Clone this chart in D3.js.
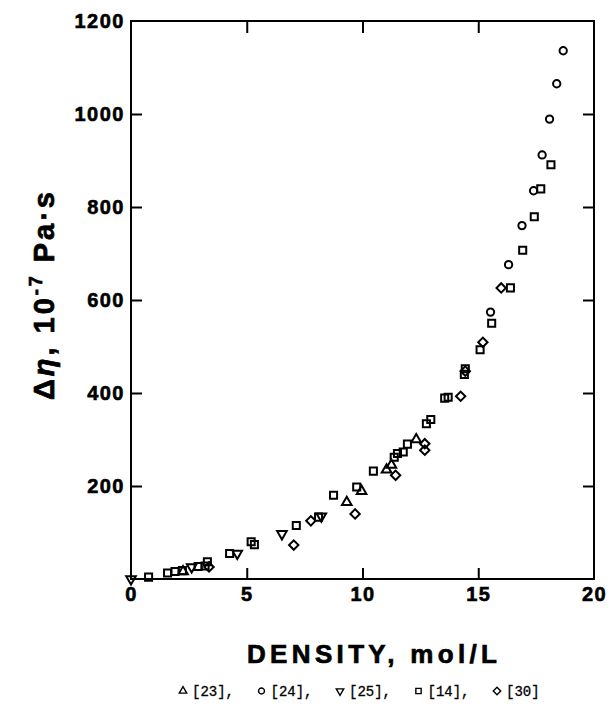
<!DOCTYPE html>
<html>
<head>
<meta charset="utf-8">
<script src="https://cdn.jsdelivr.net/npm/d3@7"></script>
<style>
  body { margin: 0; background: #fff; }
  svg { display: block; }
</style>
</head>
<body>
<div class="chart"></div>
<script>
// data: density (mol/L), excess viscosity (1e-7 Pa s)
var ref23 = [[2.25, 16], [9.32, 165], [9.96, 189], [11.04, 235], [11.25, 245], [12.32, 300]];
var ref24 = [[15.53, 574], [16.31, 676], [16.89, 760], [17.39, 835], [17.76, 912], [18.08, 989], [18.39, 1065], [18.67, 1136]];
var ref25 = [[0, 0], [2.62, 26], [4.59, 55], [6.52, 97], [8.22, 135]];
var ref14 = [[0.76, 4], [1.58, 13], [1.9, 16], [2.22, 18], [2.9, 27], [3.2, 28], [3.3, 37],
    [4.26, 55], [5.19, 80], [5.33, 74], [7.14, 115], [8.1, 133], [8.75, 180], [9.75, 198],
    [10.47, 232], [11.37, 262], [11.51, 270], [11.76, 273], [11.94, 290], [12.76, 334], [12.95, 343],
    [13.55, 389], [13.7, 391], [14.4, 440], [14.44, 452], [15.08, 493], [15.58, 550], [16.39, 626],
    [16.92, 707], [17.42, 779], [17.7, 839], [18.14, 891]];
var ref30 = [[3.37, 26], [7.03, 73], [7.77, 125], [9.68, 140], [11.43, 223], [12.69, 277], [12.69, 291],
    [14.24, 393], [14.44, 447], [15.2, 509], [15.99, 626]];

var xTicks = [0, 5, 10, 15, 20];
var yTicks = [200, 400, 600, 800, 1000, 1200];
var legendLabels = ["[23],", "[24],", "[25],", "[14],", "[30]"];

var W = 608, H = 705;
var plotL = 131, plotR = 594, plotT = 21, plotB = 579;

var svg = d3.select(".chart").append("svg")
    .attr("width", W)
    .attr("height", H);

var x = d3.scaleLinear().domain([0, 20]).range([plotL, plotR]);
var y = d3.scaleLinear().domain([0, 1200]).range([plotB, plotT]);

var tickFont = "'Liberation Sans', Arial, sans-serif";

// axes, ticks pointing inward
var gx = svg.append("g")
    .attr("transform", "translate(0," + plotB + ")")
    .call(d3.axisBottom(x).tickValues(xTicks).tickSize(-11).tickPadding(8).tickFormat(d3.format("d")));
var gy = svg.append("g")
    .attr("transform", "translate(" + plotL + ",0)")
    .call(d3.axisLeft(y).tickValues(yTicks).tickSize(-11).tickPadding(6).tickFormat(d3.format("d")));
svg.append("g")
    .attr("transform", "translate(0," + plotT + ")")
    .call(d3.axisTop(x).tickValues(xTicks.slice(1, -1)).tickSize(-12).tickFormat(""));
svg.append("g")
    .attr("transform", "translate(" + plotR + ",0)")
    .call(d3.axisRight(y).tickValues(yTicks.slice(0, -1)).tickSize(-11).tickFormat(""));

svg.selectAll(".domain").remove();
svg.selectAll(".tick line").attr("stroke", "#000").attr("stroke-width", 2);
gx.selectAll(".tick line").filter(function (d) { return d === 0 || d === 20; }).remove();
gy.selectAll(".tick line").filter(function (d) { return d === 1200; }).remove();
svg.selectAll(".tick text")
    .attr("fill", "#000")
    .attr("stroke", "#000")
    .attr("stroke-width", 0.6)
    .style("font-family", tickFont)
    .style("font-weight", "bold")
    .style("font-size", "20px")
    .style("letter-spacing", "1.5px");

svg.append("rect")
    .attr("x", plotL).attr("y", plotT)
    .attr("width", plotR - plotL).attr("height", plotB - plotT)
    .attr("fill", "none").attr("stroke", "#000").attr("stroke-width", 2);

// marker shapes
var triUp = d3.symbol().type(d3.symbolTriangle).size(40)();
var circ = d3.symbol().type(d3.symbolCircle).size(42)();
var sq = d3.symbol().type(d3.symbolSquare).size(50)();
var dia = d3.symbol().type(d3.symbolSquare).size(44)();

var series = [
    { data: ref23, path: triUp, rot: 0 },
    { data: ref24, path: circ, rot: 0 },
    { data: ref25, path: triUp, rot: 180 },
    { data: ref14, path: sq, rot: 0 },
    { data: ref30, path: dia, rot: 45 }
];

series.forEach(function (s) {
    svg.append("g").selectAll("path")
        .data(s.data)
        .enter()
        .append("path")
        .attr("d", s.path)
        .attr("transform", d => "translate(" + x(d[0]) + "," + y(d[1]) + ") rotate(" + s.rot + ")")
        .attr("fill", "none")
        .attr("stroke", "#000")
        .attr("stroke-width", 2);
});

// axis titles
svg.append("text")
    .attr("x", 372).attr("y", 663)
    .attr("text-anchor", "middle")
    .attr("textLength", 250)
    .attr("lengthAdjust", "spacing")
    .attr("stroke", "#000")
    .attr("stroke-width", 0.7)
    .style("font-family", tickFont)
    .style("font-weight", "bold")
    .style("font-size", "26px")
    .text("DENSITY, mol/L");

var ylab = svg.append("text")
    .attr("transform", "translate(54,296) rotate(-90)")
    .attr("text-anchor", "middle")
    .attr("textLength", 208)
    .attr("lengthAdjust", "spacing")
    .attr("stroke", "#000")
    .attr("stroke-width", 0.7)
    .style("font-family", tickFont)
    .style("font-weight", "bold")
    .style("font-size", "29px");
ylab.append("tspan").text("Δ");
ylab.append("tspan").style("font-style", "italic").text("η");
ylab.append("tspan").text(", 10");
ylab.append("tspan").attr("dy", -12).style("font-size", "18px").text("-7");
ylab.append("tspan").attr("dy", 12).text(" Pa·s");

// legend line under the axis title
var legPitch = 78.5, legX0 = 183, legY = 691;
var legShapes = [
    { path: d3.symbol().type(d3.symbolTriangle).size(24)(), rot: 0 },
    { path: d3.symbol().type(d3.symbolCircle).size(28)(), rot: 0 },
    { path: d3.symbol().type(d3.symbolTriangle).size(24)(), rot: 180 },
    { path: d3.symbol().type(d3.symbolSquare).size(28)(), rot: 0 },
    { path: d3.symbol().type(d3.symbolSquare).size(28)(), rot: 45 }
];
var leg = svg.append("g").selectAll("g")
    .data(legendLabels)
    .enter()
    .append("g")
    .attr("transform", (d, i) => "translate(" + (legX0 + i * legPitch) + "," + legY + ")");
leg.append("path")
    .attr("d", (d, i) => legShapes[i].path)
    .attr("transform", (d, i) => "rotate(" + legShapes[i].rot + ")")
    .attr("fill", "none")
    .attr("stroke", "#000")
    .attr("stroke-width", 1.4);
leg.append("text")
    .attr("x", 9).attr("y", 5)
    .attr("stroke", "#000")
    .attr("stroke-width", 0.3)
    .style("font-family", "'Liberation Mono', 'DejaVu Sans Mono', monospace")
    .style("font-size", "14px")
    .text(d => d);
</script>
</body>
</html>
